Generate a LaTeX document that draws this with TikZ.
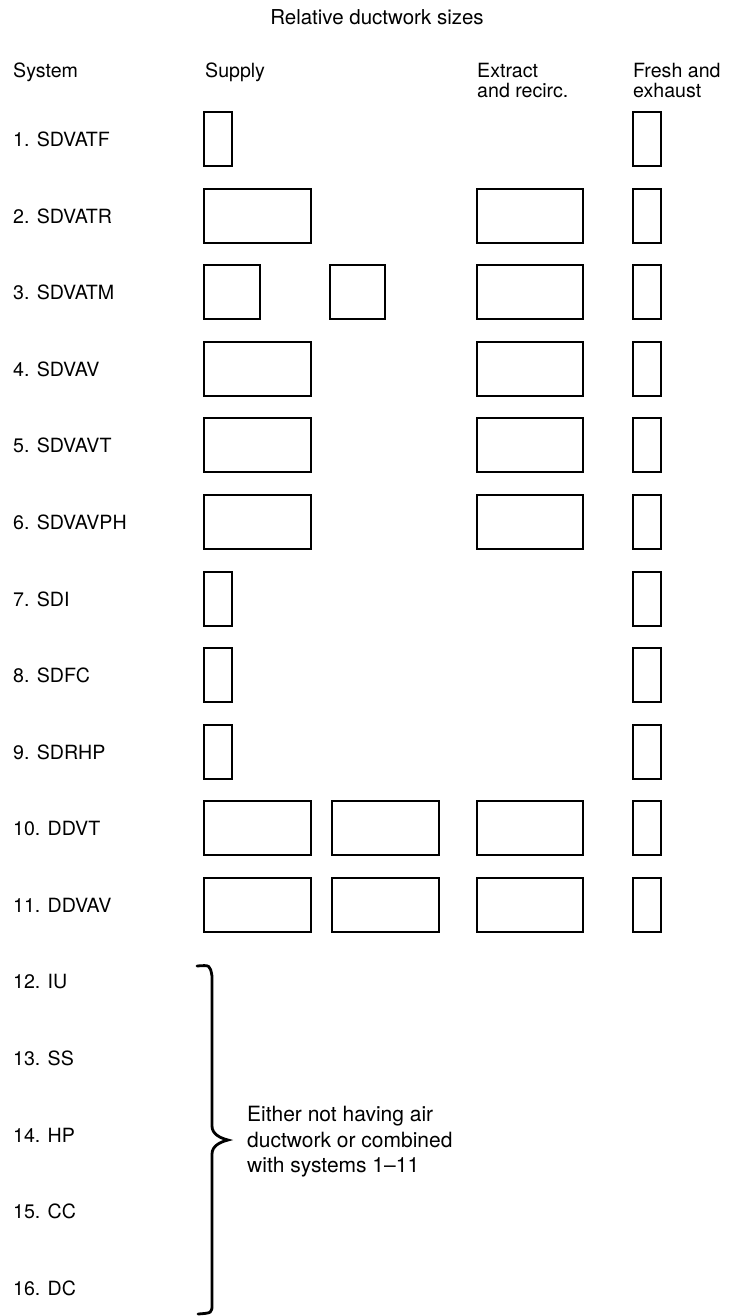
\documentclass[tikz,border=0pt]{standalone}
\usepackage{fontspec}
\setmainfont{TeX Gyre Heros}
\usepackage{tikz}
\usetikzlibrary{positioning}

\begin{document}
\begin{tikzpicture}[x=1pt, y=-1pt,
    duct/.style={draw, line width=2.6pt},
    lbl/.style={anchor=west, inner sep=0pt, font=\fontsize{19.6}{20.5}\selectfont},
    head/.style={anchor=north west, inner sep=0pt, align=left, font=\fontsize{19.6}{20.5}\selectfont}]
    \useasboundingbox (0,0) rectangle (733,1316);
    % Title and column headings
    \node[anchor=base, inner sep=0pt, font=\fontsize{20.5}{20.5}\selectfont] (title) at (377,25) {Relative ductwork sizes};
    \node[head] (hsys) at (13,63) {System};
    \node[head] (hsup) at (205,63) {Supply};
    \node[head] (hext) at (477,63) {Extract\\and recirc.};
    \node[head] (hfre) at (633,63) {Fresh and\\exhaust};
    % System names
    \node[lbl] (s1) at (13,139) {1. SDVATF};
    \node[lbl] (s2) at (13,216) {2. SDVATR};
    \node[lbl] (s3) at (13,292) {3. SDVATM};
    \node[lbl] (s4) at (13,369) {4. SDVAV};
    \node[lbl] (s5) at (13,445) {5. SDVAVT};
    \node[lbl] (s6) at (13,522) {6. SDVAVPH};
    \node[lbl] (s7) at (13,599) {7. SDI};
    \node[lbl] (s8) at (13,675) {8. SDFC};
    \node[lbl] (s9) at (13,752) {9. SDRHP};
    \node[lbl] (s10) at (13,828) {10. DDVT};
    \node[lbl] (s11) at (13,905) {11. DDVAV};
    \node[lbl] (s12) at (13,982) {12. IU};
    \node[lbl] (s13) at (13,1058) {13. SS};
    \node[lbl] (s14) at (13,1135) {14. HP};
    \node[lbl] (s15) at (13,1211) {15. CC};
    \node[lbl] (s16) at (13,1288) {16. DC};
    % Supply ducts
    \draw[duct] (204,112) rectangle ++(28,54);
    \draw[duct] (204,189) rectangle ++(107,54);
    \draw[duct] (204,265) rectangle ++(56,54);
    \draw[duct] (330,265) rectangle ++(55,54);
    \draw[duct] (204,342) rectangle ++(107,54);
    \draw[duct] (204,418) rectangle ++(107,54);
    \draw[duct] (204,495) rectangle ++(107,54);
    \draw[duct] (204,572) rectangle ++(28,54);
    \draw[duct] (204,648) rectangle ++(28,54);
    \draw[duct] (204,725) rectangle ++(28,54);
    \draw[duct] (204,801) rectangle ++(107,54);
    \draw[duct] (332,801) rectangle ++(107,54);
    \draw[duct] (204,878) rectangle ++(107,54);
    \draw[duct] (332,878) rectangle ++(107,54);
    % Extract and recirc. ducts
    \draw[duct] (477,189) rectangle ++(106,54);
    \draw[duct] (477,265) rectangle ++(106,54);
    \draw[duct] (477,342) rectangle ++(106,54);
    \draw[duct] (477,418) rectangle ++(106,54);
    \draw[duct] (477,495) rectangle ++(106,54);
    \draw[duct] (477,801) rectangle ++(106,54);
    \draw[duct] (477,878) rectangle ++(106,54);
    % Fresh and exhaust ducts
    \draw[duct] (633,112) rectangle ++(28,54);
    \draw[duct] (633,189) rectangle ++(28,54);
    \draw[duct] (633,265) rectangle ++(28,54);
    \draw[duct] (633,342) rectangle ++(28,54);
    \draw[duct] (633,418) rectangle ++(28,54);
    \draw[duct] (633,495) rectangle ++(28,54);
    \draw[duct] (633,572) rectangle ++(28,54);
    \draw[duct] (633,648) rectangle ++(28,54);
    \draw[duct] (633,725) rectangle ++(28,54);
    \draw[duct] (633,801) rectangle ++(28,54);
    \draw[duct] (633,878) rectangle ++(28,54);
    % Brace over systems 12--16
    \coordinate (btop) at (197,966);
    \coordinate (btip) at (228,1140);
    \coordinate (bbot) at (198,1314);
    \draw[line width=2.8pt, line cap=round]
      (btop) .. controls (210,965) .. (212,976) -- (212,1126)
      .. controls (212,1134) and (220,1138) .. (btip)
      .. controls (220,1142) and (212,1146) .. (212,1154) -- (212,1304)
      .. controls (212,1313) .. (bbot);
    \node[head, font=\fontsize{21}{25.5}\selectfont] (note) at (247,1106) {Either not having air\\ductwork or combined\\with systems 1--11};
\end{tikzpicture}
\end{document}
